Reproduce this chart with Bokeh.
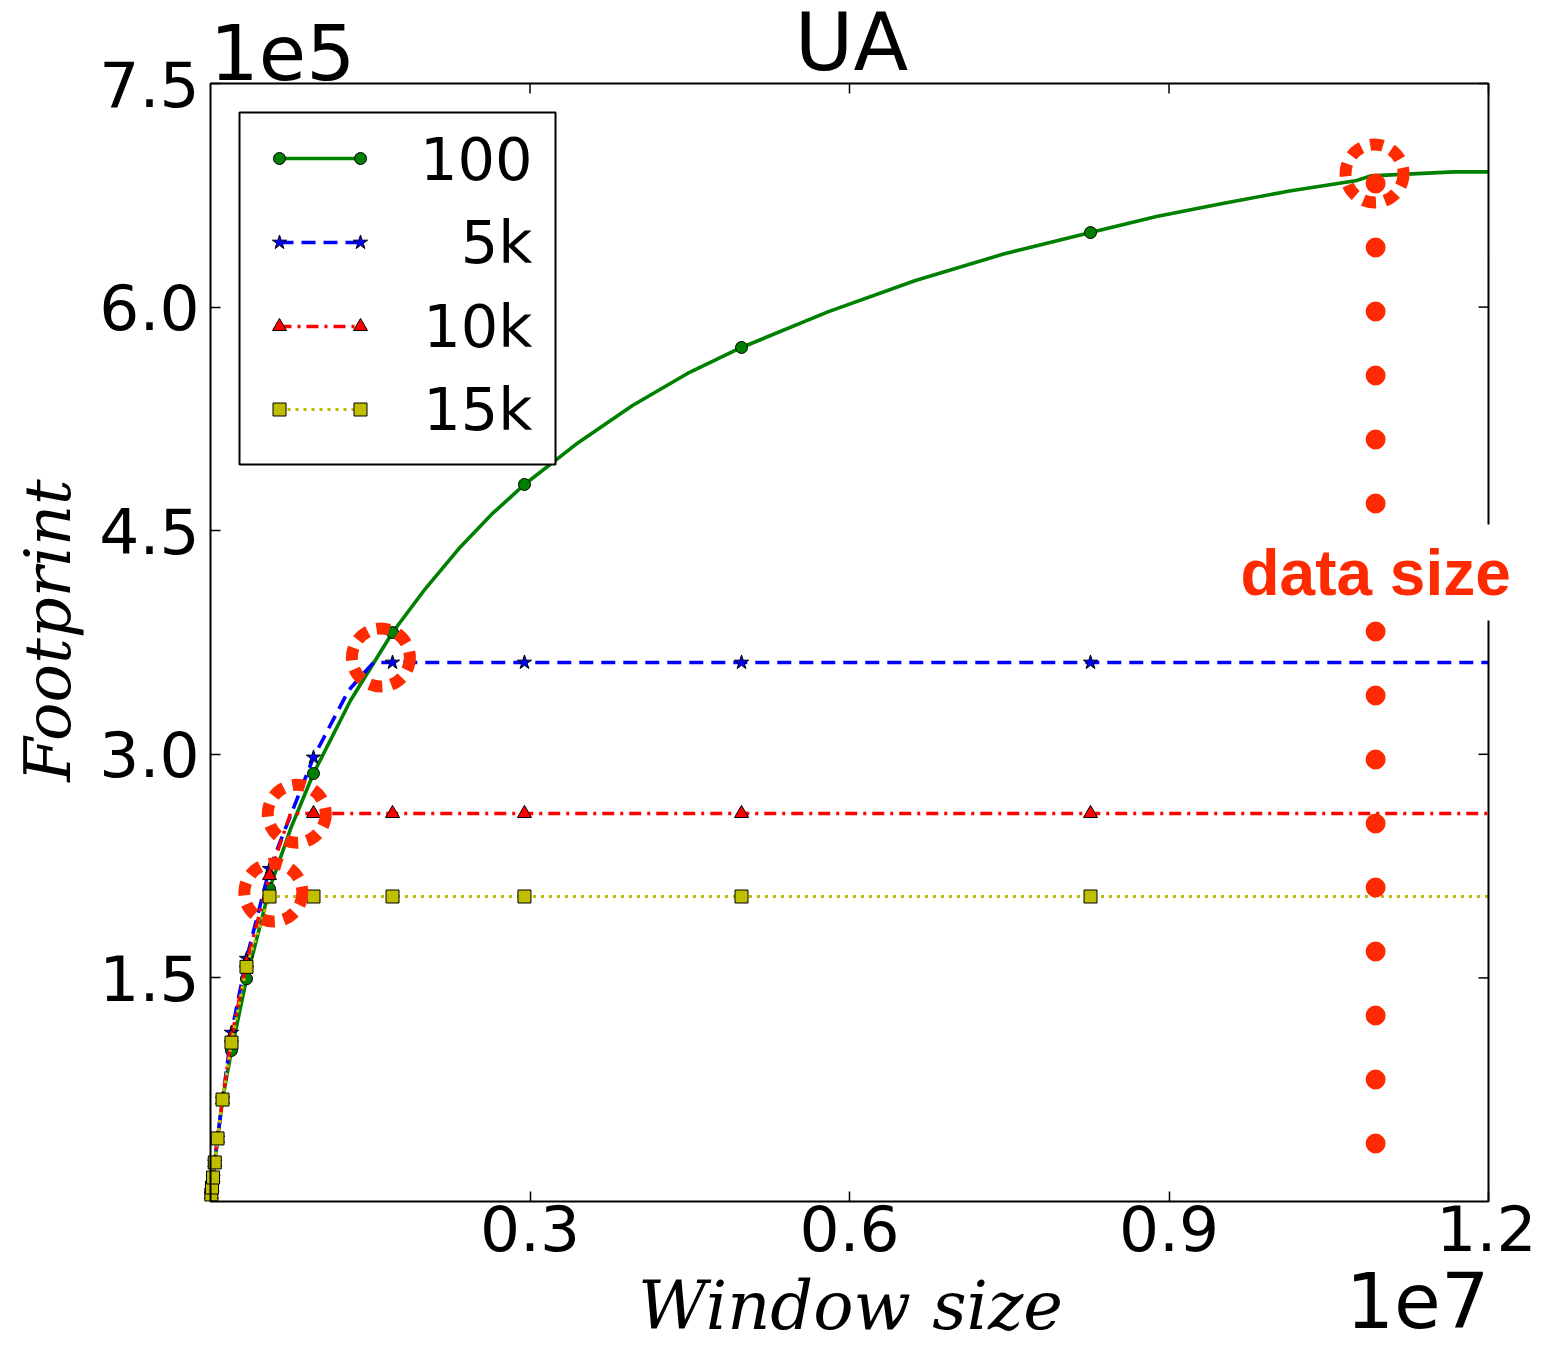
from bokeh.plotting import figure
from bokeh.models import Range1d, FixedTicker, Label, BoxAnnotation
from bokeh.embed import file_html
from bokeh.resources import INLINE

# ---------------- data ----------------
series_names = ["100", "5k", "10k", "15k"]

window_marks = [8e3, 14e3, 24e3, 40e3, 66e3, 113e3, 197e3, 338e3, 554e3,
                967e3, 1709e3, 2948e3, 4986e3, 8263e3]
fp_100 = [4.7e3, 9.4e3, 16.1e3, 26.2e3, 42.3e3, 68.4e3, 101.3e3, 149.4e3, 209.8e3,
          287.1e3, 381.7e3, 481.0e3, 572.9e3, 650.0e3]
fp_5k = [4.7e3, 9.4e3, 16.1e3, 26.2e3, 42.3e3, 68.4e3, 113.3e3, 162.9e3, 223.2e3,
         297.9e3, 361.6e3, 361.6e3, 361.6e3, 361.6e3]
fp_10k = [4.7e3, 9.4e3, 16.1e3, 26.2e3, 42.3e3, 68.4e3, 110.0e3, 160.0e3, 218.7e3,
          260.3e3, 260.3e3, 260.3e3, 260.3e3, 260.3e3]
fp_15k = [4.7e3, 9.4e3, 16.1e3, 26.2e3, 42.3e3, 68.4e3, 106.6e3, 157.4e3, 204.6e3,
          204.6e3, 204.6e3, 204.6e3, 204.6e3, 204.6e3]

# additional points of the lines (no markers there)
extra_100_x = [760.6e3, 1314.6e3, 2018.8e3, 2328.6e3, 2638.5e3, 3455.4e3, 3962.5e3,
               4478.9e3, 5802.8e3, 6619.7e3, 7446.0e3, 8882.7e3, 9502.4e3, 10131.5e3,
               10751e3, 10892e3, 11677e3, 12000e3]
extra_100_y = [251.6e3, 336.1e3, 411.2e3, 437.7e3, 460.9e3, 509.2e3, 534.0e3,
               555.5e3, 597.0e3, 617.8e3, 635.6e3, 660.8e3, 669.5e3, 677.9e3,
               684.7e3, 688.0e3, 690.7e3, 690.7e3]
extra_5k_x = [1296e3, 1530e3, 12000e3]
extra_5k_y = [342.8e3, 361.6e3, 361.6e3]
extra_10k_x = [751e3, 12000e3]
extra_10k_y = [260.3e3, 260.3e3]
extra_15k_x = [12000e3]
extra_15k_y = [204.6e3]

# highlighted points (dashed red rings) and the data-size marker
highlight_x = [10.93e6, 1.60e6, 0.81e6, 0.59e6]
highlight_y = [689.6e3, 364.9e3, 260.1e3, 207.3e3]
data_size = 10.94e6
data_size_top = 682.9e3

x_ticks = [3e6, 6e6, 9e6, 12e6]
x_tick_labels = ["0.3", "0.6", "0.9", "1.2"]
y_ticks = [1.5e5, 3.0e5, 4.5e5, 6.0e5, 7.5e5]
y_tick_labels = ["1.5", "3.0", "4.5", "6.0", "7.5"]

# ---------------- styles ----------------
GREEN, BLUE, LRED, YEL = "#008000", "#0000ff", "#ff0000", "#bfbf00"
ANN = "#ff2a00"
styles = [
    dict(color=GREEN, dash="solid", marker="circle", msize=12, lw=3.6),
    dict(color=BLUE, dash="14 8", marker="star", msize=15, lw=3.6),
    dict(color=LRED, dash="12 6 3 6", marker="triangle", msize=14, lw=3.4),
    dict(color=YEL, dash="3 5", marker="square", msize=13, lw=3.2),
]
marks = [fp_100, fp_5k, fp_10k, fp_15k]
extras = [(extra_100_x, extra_100_y), (extra_5k_x, extra_5k_y),
          (extra_10k_x, extra_10k_y), (extra_15k_x, extra_15k_y)]

# geometry: canvas pixels of the data box
W, H = 1536, 1338
FL, FR, FT, FB = 210, 1488, 83, 1201
XMAX, YMAX = 1.2e7, 7.5e5
PX = XMAX / (FR - FL)   # data units per pixel (x)
PY = YMAX / (FB - FT)   # data units per pixel (y)


def dx(px):
    return (px - FL) * PX


def dy(py):
    return (FB - py) * PY


p = figure(width=W, height=H, x_range=Range1d(dx(0), dx(W)), y_range=Range1d(dy(H), dy(0)),
           output_backend="svg", toolbar_location=None, title=None, min_border=0)
p.background_fill_color = "white"
p.border_fill_color = "white"
p.outline_line_color = None
p.xgrid.visible = False
p.ygrid.visible = False

TICK_FONT = "DejaVu Sans"
for ax in p.xaxis:
    ax.fixed_location = 0
    ax.ticker = FixedTicker(ticks=x_ticks)
    ax.major_label_overrides = {int(t): l for t, l in zip(x_ticks, x_tick_labels)}
    ax.major_label_text_font = TICK_FONT
    ax.major_label_text_font_size = "63px"
    ax.major_label_text_color = "black"
    ax.major_label_standoff = 3
    ax.axis_line_color = None
    ax.major_tick_in = 10
    ax.major_tick_out = 0
    ax.major_tick_line_width = 1.5
    ax.minor_tick_line_color = None
for ax in p.yaxis:
    ax.fixed_location = 0
    ax.ticker = FixedTicker(ticks=y_ticks)
    ax.major_label_overrides = {int(t): l for t, l in zip(y_ticks, y_tick_labels)}
    ax.major_label_text_font = TICK_FONT
    ax.major_label_text_font_size = "63px"
    ax.major_label_text_color = "black"
    ax.major_label_standoff = 11
    ax.axis_line_color = None
    ax.major_tick_in = 10
    ax.major_tick_out = 0
    ax.major_tick_line_width = 1.5
    ax.minor_tick_line_color = None

# inward ticks on the top and right edges of the box
p.segment(x0=x_ticks, y0=[YMAX] * len(x_ticks), x1=x_ticks, y1=[YMAX - 10 * PY] * len(x_ticks),
          line_color="black", line_width=1.5)
p.segment(x0=[XMAX] * len(y_ticks), y0=y_ticks, x1=[XMAX - 10 * PX] * len(y_ticks), y1=y_ticks,
          line_color="black", line_width=1.5)

# ---------------- series ----------------
for st, ys, (ex, ey) in zip(styles, marks, extras):
    pts = sorted(list(zip(window_marks, ys)) + list(zip(ex, ey)))
    lx = [a for a, b in pts]
    ly = [b for a, b in pts]
    p.line(lx, ly, line_color=st["color"], line_width=st["lw"], line_dash=st["dash"],
           line_join="round")
    p.scatter(window_marks, ys, marker=st["marker"], size=st["msize"],
              fill_color=st["color"], line_color="black", line_width=1)

# frame of the data box
p.add_layout(BoxAnnotation(left=0, right=XMAX, bottom=0, top=YMAX, fill_color=None,
                           line_color="black", line_width=2, line_alpha=1.0))

# ---------------- annotations ----------------
p.line([data_size, data_size], [data_size_top, 0], line_color=ANN, line_width=20,
       line_cap="round", line_dash="0 64")
p.scatter(highlight_x, highlight_y, marker="circle", size=58, fill_color=None,
          line_color=ANN, line_width=12, line_dash="13 9")
p.add_layout(Label(x=data_size, y=dy(572), text="data size", text_align="center",
                   text_baseline="middle", text_font="Liberation Sans",
                   text_font_style="bold", text_font_size="64px", text_color=ANN,
                   background_fill_color="white", background_fill_alpha=1.0,
                   padding=12, level="overlay"))

# ---------------- legend ----------------
p.add_layout(BoxAnnotation(left=dx(239), right=dx(555), top=dy(112), bottom=dy(464),
                           fill_color="white", fill_alpha=1.0, line_color="black",
                           line_width=2, line_alpha=1.0))
row_px = [158, 242, 326, 409]
for st, name, ry in zip(styles, series_names, row_px):
    yy = [dy(ry), dy(ry)]
    xx = [dx(279), dx(360)]
    p.line(xx, yy, line_color=st["color"], line_width=st["lw"], line_dash=st["dash"],
           level="overlay")
    p.scatter(xx, yy, marker=st["marker"], size=st["msize"], fill_color=st["color"],
              line_color="black", line_width=1, level="overlay")
    p.add_layout(Label(x=dx(532), y=dy(ry), text=name, text_align="right",
                       text_baseline="middle", text_font=TICK_FONT,
                       text_font_size="59px", text_color="black", level="overlay"))

# ---------------- titles / offsets / axis titles ----------------
p.add_layout(Label(x=dx(851), y=dy(42), text="UA", text_align="center",
                   text_baseline="middle", text_font=TICK_FONT,
                   text_font_size="80px", text_color="black"))
p.add_layout(Label(x=dx(282), y=dy(51), text="1e5", text_align="center",
                   text_baseline="middle", text_font=TICK_FONT,
                   text_font_size="77px", text_color="black"))
p.add_layout(Label(x=dx(1417), y=dy(1299), text="1e7", text_align="center",
                   text_baseline="middle", text_font=TICK_FONT,
                   text_font_size="76px", text_color="black"))
p.add_layout(Label(x=dx(850), y=dy(1305), text="Window size", text_align="center",
                   text_baseline="middle", text_font="DejaVu Serif",
                   text_font_style="italic", text_font_size="67px", text_color="black"))
p.add_layout(Label(x=dx(47), y=dy(630), text="Footprint", text_align="center",
                   text_baseline="middle", text_font="DejaVu Serif",
                   text_font_style="italic", text_font_size="64px", text_color="black",
                   angle=1.5707963))

open("out.html", "w").write(file_html(p, INLINE))
